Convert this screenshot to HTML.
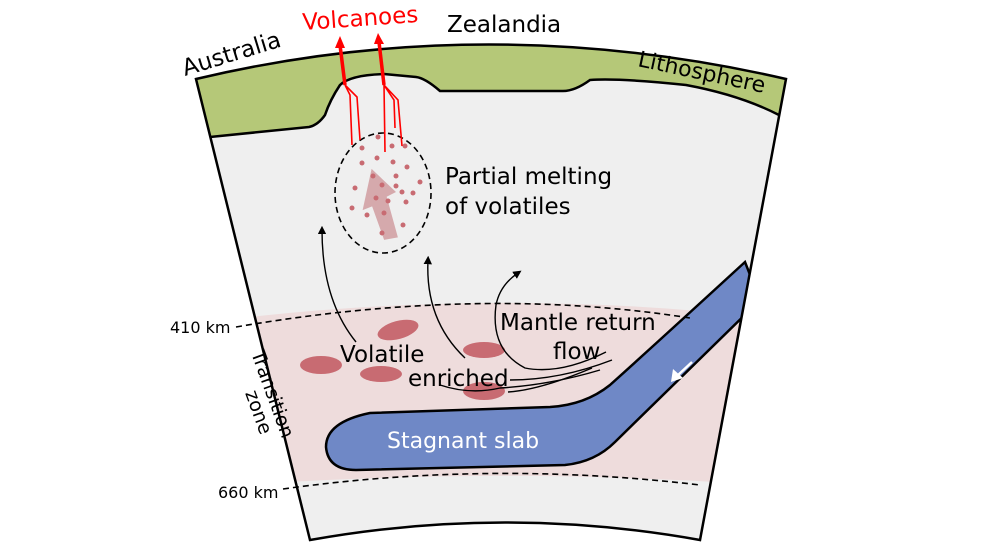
<!DOCTYPE html>
<html><head><meta charset="utf-8"><style>
html,body{margin:0;padding:0;background:#fff;}
svg{display:block;font-family:"DejaVu Sans","Liberation Sans",sans-serif;}
</style></head><body>
<svg width="984" height="553" viewBox="0 0 984 553" xmlns="http://www.w3.org/2000/svg">
<defs>
<marker id="ah" viewBox="0 0 10 10" refX="5" refY="5" markerWidth="6" markerHeight="6" orient="auto"><path d="M0,0L10,5L0,10z" fill="#000"/></marker>
<clipPath id="wedge"><path d="M196,79 Q487,10 786,79 L700,540 Q505,505 310,540 Z"/></clipPath>
</defs>
<path d="M196,79 Q487,10 786,79 L700,540 Q505,505 310,540 Z" fill="#efefef"/>
<g clip-path="url(#wedge)">
<path d="M150,330 Q480,280 800,322 L800,488 Q490,462 150,492 Z" fill="#eedcdc"/>
<path d="M180,70 Q487,5 800,75 L800,120 L779,115 Q740,95 686,85 Q620,78 590,80 Q575,91 563,91 L440,91 Q425,78 416,77 L384,74 Q350,75 340,85 Q330,100 325,115 Q318,125 309,127 L180,140 Z" fill="#b5c878" stroke="#000" stroke-width="2.5"/>
<path d="M745,262 Q660,340 610,385 Q585,405 550,407 L370,413 Q326,422 326,447 Q328,470 356,470 L565,465 Q595,462 615,442 L760,300 Z" fill="#6f88c6" stroke="#000" stroke-width="2.5"/>
</g>
<path d="M236,327 Q480,285 690,318" fill="none" stroke="#000" stroke-width="1.6" stroke-dasharray="6,4"/>
<path d="M283,489 Q490,460 700,485" fill="none" stroke="#000" stroke-width="1.6" stroke-dasharray="6,4"/>
<path d="M196,79 Q487,10 786,79 L700,540 Q505,505 310,540 Z" fill="none" stroke="#000" stroke-width="2.5"/>
<g fill="#c86b72">
<ellipse cx="321" cy="365" rx="21" ry="9"/>
<ellipse cx="398" cy="330" rx="21" ry="9" transform="rotate(-15 398 330)"/>
<ellipse cx="381" cy="374" rx="21" ry="8"/>
<ellipse cx="484" cy="350" rx="21" ry="8"/>
<ellipse cx="484" cy="391" rx="21" ry="9"/>
</g>
<ellipse cx="383" cy="193" rx="48" ry="60" fill="none" stroke="#000" stroke-width="1.6" stroke-dasharray="6,4"/>
<path d="M378,240 L372,205 L362,207 L378,168 L398,195 L388,198 L392,240 Z" fill="#d5a9ac" transform="rotate(-10 380 205)"/>
<g fill="#c86b72">
<circle cx="378" cy="137" r="2.5"/><circle cx="362" cy="148" r="2.5"/><circle cx="377" cy="158" r="2.5"/><circle cx="392" cy="146" r="2.5"/><circle cx="405" cy="146" r="2.5"/><circle cx="362" cy="163" r="2.5"/><circle cx="393" cy="162" r="2.5"/><circle cx="407" cy="167" r="2.5"/><circle cx="373" cy="176" r="2.5"/><circle cx="396" cy="176" r="2.5"/><circle cx="355" cy="188" r="2.5"/><circle cx="382" cy="185" r="2.5"/><circle cx="396" cy="186" r="2.5"/><circle cx="420" cy="182" r="2.5"/><circle cx="402" cy="192" r="2.5"/><circle cx="413" cy="193" r="2.5"/><circle cx="376" cy="198" r="2.5"/><circle cx="388" cy="201" r="2.5"/><circle cx="406" cy="202" r="2.5"/><circle cx="352" cy="208" r="2.5"/><circle cx="367" cy="215" r="2.5"/><circle cx="384" cy="213" r="2.5"/><circle cx="403" cy="225" r="2.5"/><circle cx="382" cy="233" r="2.5"/>
</g>
<g stroke="#f00" fill="none">
<path d="M340,45 L345,85" stroke-width="3.5"/>
<path d="M345,85 L350,95 L352,145 M345,85 L357,97 L360,140" stroke-width="1.6"/>
<path d="M379,42 L384,85" stroke-width="3.5"/>
<path d="M384,85 L385,152 M384,85 L394,100 L395,128 M384,85 L398,100 L402,146" stroke-width="1.6"/>
</g>
<path d="M335,48 L340,36 L345,48 Z" fill="#f00"/>
<path d="M374,44 L378,33 L384,44 Z" fill="#f00"/>
<g fill="none" stroke="#000" stroke-width="1.4">
<path d="M356,342 Q322,300 322,230" marker-end="url(#ah)"/>
<path d="M465,358 Q425,320 428,260" marker-end="url(#ah)"/>
<path d="M606,352 Q560,375 525,368 Q490,350 496,305 Q500,285 518,273" marker-end="url(#ah)"/>
<path d="M612,360 Q560,380 510,380"/>
<path d="M600,370 Q550,385 500,388 Q470,395 440,385"/>
<path d="M592,368 Q540,390 508,392"/>
</g>
<path d="M692,362 L677,376" stroke="#fff" stroke-width="2.5"/>
<path d="M671,382 L673,369 L683,378 Z" fill="#fff"/>
<text x="303" y="30" font-size="23" fill="#f00" transform="rotate(-4 303 30)">Volcanoes</text>
<text x="447" y="32" font-size="23" fill="#000">Zealandia</text>
<text x="185" y="76" font-size="23" fill="#000" transform="rotate(-17 185 76)">Australia</text>
<text x="637" y="66" font-size="22" fill="#000" transform="rotate(12 637 66)">Lithosphere</text>
<text x="445" y="184" font-size="23" fill="#000">Partial melting</text>
<text x="445" y="214" font-size="23" fill="#000">of volatiles</text>
<text x="340" y="362" font-size="23" fill="#000">Volatile</text>
<text x="408" y="386" font-size="23" fill="#000">enriched</text>
<text x="500" y="330" font-size="23" fill="#000">Mantle return</text>
<text x="553" y="359" font-size="23" fill="#000">flow</text>
<text x="387" y="448" font-size="22" fill="#fff">Stagnant slab</text>
<text x="170" y="333" font-size="16" fill="#000">410 km</text>
<text x="218" y="498" font-size="16" fill="#000">660 km</text>
<text x="251" y="353" font-size="19" fill="#000" transform="rotate(70 251 353)">Transition</text>
<text x="245" y="393" font-size="19" fill="#000" transform="rotate(70 245 393)">zone</text>
</svg>
</body></html>
